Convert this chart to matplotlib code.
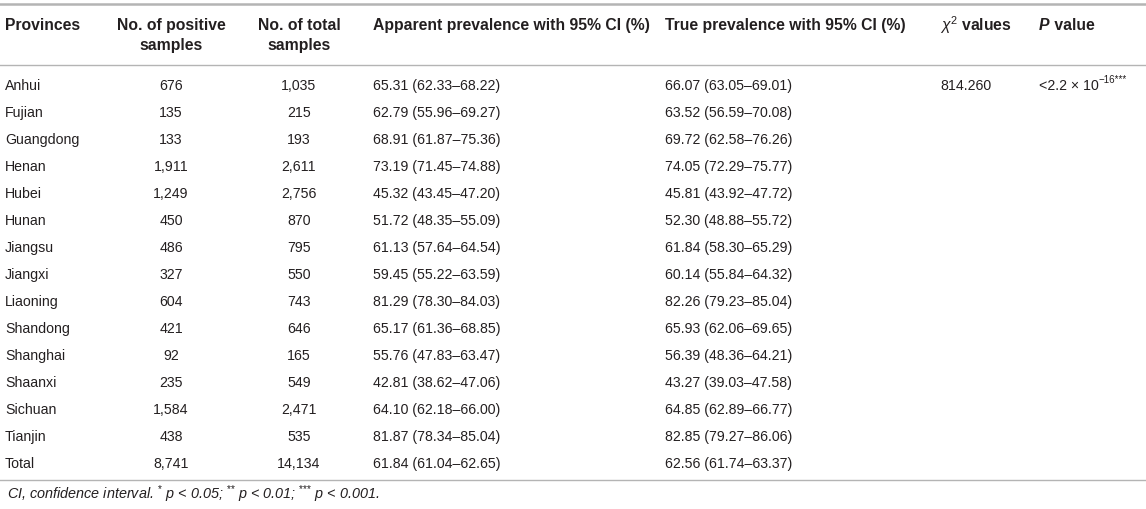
import matplotlib
matplotlib.use("Agg")
import matplotlib.pyplot as plt

plt.rcParams['font.family'] = ['Liberation Sans', 'DejaVu Sans']
plt.rcParams['mathtext.fontset'] = 'custom'
plt.rcParams['mathtext.rm'] = 'Liberation Sans'
plt.rcParams['mathtext.it'] = 'Liberation Sans:italic'
plt.rcParams['mathtext.bf'] = 'Liberation Sans:bold'

provinces = ["Anhui", "Fujian", "Guangdong", "Henan", "Hubei", "Hunan", "Jiangsu",
             "Jiangxi", "Liaoning", "Shandong", "Shanghai", "Shaanxi", "Sichuan",
             "Tianjin", "Total"]
n_positive = [676, 135, 133, 1911, 1249, 450, 486, 327, 604, 421, 92, 235, 1584, 438, 8741]
n_total = [1035, 215, 193, 2611, 2756, 870, 795, 550, 743, 646, 165, 549, 2471, 535, 14134]
apparent = [65.31, 62.79, 68.91, 73.19, 45.32, 51.72, 61.13, 59.45, 81.29, 65.17,
            55.76, 42.81, 64.10, 81.87, 61.84]
apparent_lo = [62.33, 55.96, 61.87, 71.45, 43.45, 48.35, 57.64, 55.22, 78.30, 61.36,
               47.83, 38.62, 62.18, 78.34, 61.04]
apparent_hi = [68.22, 69.27, 75.36, 74.88, 47.20, 55.09, 64.54, 63.59, 84.03, 68.85,
               63.47, 47.06, 66.00, 85.04, 62.65]
true_prev = [66.07, 63.52, 69.72, 74.05, 45.81, 52.30, 61.84, 60.14, 82.26, 65.93,
             56.39, 43.27, 64.85, 82.85, 62.56]
true_lo = [63.05, 56.59, 62.58, 72.29, 43.92, 48.88, 58.30, 55.84, 79.23, 62.06,
           48.36, 39.03, 62.89, 79.27, 61.74]
true_hi = [69.01, 70.08, 76.26, 75.77, 47.72, 55.72, 65.29, 64.32, 85.04, 69.65,
           64.21, 47.58, 66.77, 86.06, 63.37]
chi2_value = "814.260"
p_base = "<2.2 × 10"
p_exp = "−16***"

W, H = 1146, 509
fig = plt.figure(figsize=(W / 100, H / 100), dpi=100)
ax = fig.add_axes([0, 0, 1, 1])
ax.set_xlim(0, W)
ax.set_ylim(H, 0)
ax.axis('off')

txt = '#231f20'
line_col = '#b4b4b4'
fs = 10.2      # body
hfs = 11.3     # header

# column positions
x_prov, x_pos, x_tot, x_app, x_true, x_chi, x_p = 5, 171, 299, 373, 665, 940, 1039

# rules
ax.plot([0, W], [4, 4], color=line_col, lw=1.8)
ax.plot([0, W], [65, 65], color=line_col, lw=1.0)
ax.plot([0, W], [480, 480], color=line_col, lw=1.0)

# header
hy1, hy2 = 25, 45
hkw = dict(fontsize=hfs, fontweight='bold', color=txt, va='center')
ax.text(x_prov, hy1, "Provinces", **hkw)
ax.text(x_pos, hy1, "No. of positive", ha='center', **hkw)
ax.text(x_pos, hy2, "samples", ha='center', **hkw)
ax.text(x_tot, hy1, "No. of total", ha='center', **hkw)
ax.text(x_tot, hy2, "samples", ha='center', **hkw)
ax.text(x_app, hy1, "Apparent prevalence with 95% CI (%)", **hkw)
ax.text(x_true, hy1, "True prevalence with 95% CI (%)", **hkw)
ax.text(x_chi, hy1, r"$\chi^{2}$ values", **hkw)
tp = ax.text(x_p, hy1, "P", style='italic', **hkw)
ax.annotate(" value", xy=(1, 0.5), xycoords=tp, **hkw)

# body
y0, dy = 86, 27
bkw = dict(fontsize=fs, color=txt, va='center')
for i, prov in enumerate(provinces):
    y = y0 + i * dy
    ax.text(x_prov, y, prov, **bkw)
    ax.text(x_pos, y, f"{n_positive[i]:,}", ha='center', **bkw)
    ax.text(x_tot, y, f"{n_total[i]:,}", ha='center', **bkw)
    ax.text(x_app, y, f"{apparent[i]:.2f} ({apparent_lo[i]:.2f}–{apparent_hi[i]:.2f})", **bkw)
    ax.text(x_true, y, f"{true_prev[i]:.2f} ({true_lo[i]:.2f}–{true_hi[i]:.2f})", **bkw)

ax.text(x_chi, y0, chi2_value, **bkw)
pb = ax.text(x_p, y0, p_base, **bkw)
ax.annotate(p_exp, xy=(1, 0.55), xycoords=pb, fontsize=7, color=txt, va='bottom')

# footnote
ax.text(x_prov + 2, 494,
        r"CI, confidence interval. ${}^{\text{*}}$ p < 0.05; ${}^{\text{**}}$ p < 0.01; "
        r"${}^{\text{***}}$ p < 0.001.",
        fontsize=10.4, style='italic', color=txt, va='center')

fig.savefig("out.png", dpi=100)
